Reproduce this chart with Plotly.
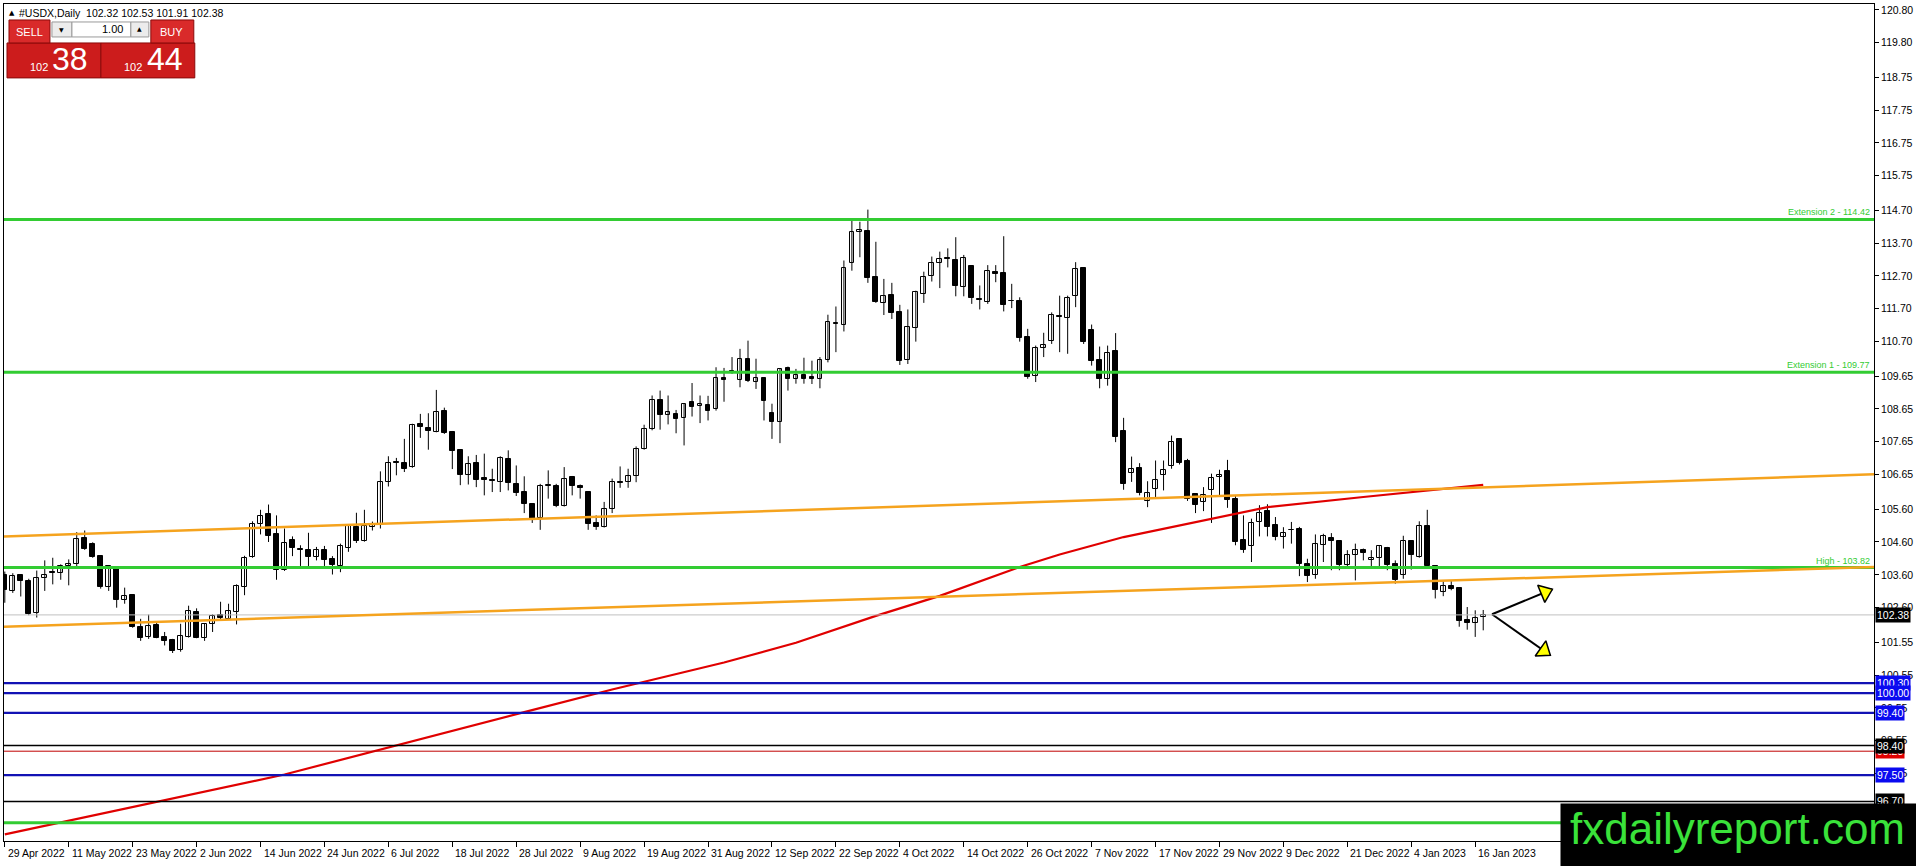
import math
import pandas as pd
import plotly.graph_objects as go

# ---------------- data ----------------
holidays = ["2022-12-26", "2023-01-02"]
dates = [d for d in pd.bdate_range("2022-04-29", "2023-01-17")
         if d.strftime("%Y-%m-%d") not in holidays]
tick_step = 8
tick_labels = [f"{d.day} {d.strftime('%b %Y')}" for d in dates[::tick_step]]

opens = [
    103.61, 103.11, 103.58, 103.40, 102.44, 103.51, 103.68, 103.67, 103.86, 103.94,
    104.71, 104.53, 104.16, 103.23, 103.85, 102.82, 103.00, 102.01, 101.71, 102.07,
    101.70, 101.61, 101.30, 101.71, 102.47, 101.69, 102.11, 102.37, 102.27, 102.47,
    103.23, 104.14, 105.16, 105.44, 104.83, 103.74, 104.65, 104.40, 104.37, 104.14,
    104.35, 104.07, 103.88, 104.43, 105.06, 104.63, 105.06, 105.11, 106.43, 107.03,
    107.02, 106.88, 108.18, 108.08, 107.96, 108.60, 107.95, 107.39, 106.65, 107.00,
    106.54, 106.49, 106.43, 107.14, 106.37, 106.13, 105.75, 105.34, 106.29, 106.32,
    105.69, 106.58, 106.32, 106.13, 105.18, 105.06, 105.61, 106.42, 106.44, 106.60,
    107.44, 108.03, 108.91, 108.47, 108.50, 108.38, 108.86, 108.73, 108.76, 108.64,
    109.60, 109.80, 109.52, 110.18, 109.48, 109.60, 108.54, 108.25, 109.90, 109.57,
    109.67, 109.62, 109.55, 110.14, 111.27, 111.21, 113.09, 114.05, 114.08, 112.68,
    111.88, 112.13, 111.61, 110.14, 111.12, 112.15, 112.69, 113.10, 113.24, 113.19,
    112.36, 113.01, 112.00, 111.92, 112.81, 112.79, 111.94, 111.94, 110.83, 109.64,
    110.50, 110.71, 111.49, 111.41, 112.10, 112.93, 111.06, 110.15, 109.57, 110.41,
    107.99, 106.70, 106.86, 105.85, 106.22, 106.63, 106.90, 107.74, 107.08, 106.07,
    105.82, 106.17, 106.59, 106.75, 105.92, 104.65, 104.47, 105.21, 105.54, 105.11,
    104.75, 104.96, 105.00, 103.94, 103.58, 104.50, 104.72, 104.62, 103.91, 104.19,
    104.37, 104.06, 104.12, 104.43, 103.94, 103.61, 104.62, 104.14, 105.08, 103.86,
    103.08, 103.25, 103.20, 102.22, 102.13, 102.32]
highs = [
    103.70, 103.65, 103.60, 103.48, 103.73, 104.04, 104.12, 103.92, 104.07, 104.90,
    104.95, 104.59, 104.19, 103.88, 103.86, 103.21, 103.01, 102.26, 102.39, 102.17,
    101.86, 101.65, 102.11, 102.66, 102.58, 102.13, 102.40, 102.78, 102.72, 103.31,
    104.18, 105.23, 105.58, 105.74, 105.41, 105.01, 104.77, 104.50, 104.88, 104.45,
    104.48, 104.17, 104.55, 105.10, 105.49, 105.58, 105.22, 106.75, 107.21, 107.16,
    107.74, 108.20, 108.50, 108.52, 109.23, 108.69, 107.98, 107.42, 107.21, 107.25,
    107.29, 106.83, 107.21, 107.39, 106.93, 106.60, 105.77, 106.37, 106.78, 106.37,
    106.88, 106.61, 106.35, 106.15, 105.41, 105.82, 106.53, 106.90, 106.83, 107.51,
    108.17, 109.06, 109.21, 109.06, 108.62, 108.83, 109.44, 109.06, 109.05, 109.92,
    109.90, 110.23, 110.48, 110.73, 110.18, 109.62, 108.81, 109.89, 109.94, 109.87,
    110.21, 110.12, 110.23, 111.52, 111.77, 113.17, 114.45, 114.35, 114.72, 113.74,
    112.61, 112.49, 111.82, 111.68, 112.25, 112.83, 113.29, 113.44, 113.54, 113.88,
    113.34, 113.03, 112.41, 113.03, 113.03, 113.91, 112.46, 112.05, 111.09, 110.58,
    110.97, 111.59, 112.10, 112.10, 113.12, 112.95, 111.22, 110.55, 110.58, 110.96,
    108.38, 107.20, 107.00, 106.45, 107.08, 107.08, 107.84, 107.76, 107.13, 106.09,
    106.27, 106.68, 106.80, 107.10, 106.02, 105.41, 105.31, 105.72, 105.75, 105.36,
    105.05, 105.21, 105.06, 104.09, 104.83, 104.85, 104.87, 104.64, 104.35, 104.55,
    104.40, 104.35, 104.50, 104.45, 104.04, 104.79, 104.64, 105.23, 105.58, 103.88,
    103.41, 103.41, 103.22, 102.62, 102.52, 102.53]
lows = [
    102.75, 103.05, 102.94, 102.37, 102.30, 103.11, 103.31, 103.45, 103.28, 103.84,
    104.36, 104.12, 103.18, 103.11, 102.60, 102.72, 101.99, 101.59, 101.65, 101.67,
    101.45, 101.22, 101.26, 101.69, 101.67, 101.59, 101.86, 102.24, 102.24, 102.09,
    102.98, 104.12, 104.83, 104.60, 103.45, 103.72, 104.17, 103.87, 103.86, 104.04,
    103.87, 103.61, 103.68, 104.30, 104.57, 104.61, 104.95, 105.01, 106.29, 106.63,
    106.73, 106.86, 107.77, 107.41, 107.94, 107.89, 106.82, 106.33, 106.35, 106.27,
    106.02, 106.12, 106.12, 106.17, 106.00, 105.48, 105.18, 104.97, 105.92, 105.66,
    105.68, 106.02, 105.92, 104.97, 104.97, 105.04, 105.48, 106.25, 106.25, 106.42,
    107.41, 108.00, 108.02, 108.18, 107.91, 107.54, 108.42, 108.22, 108.30, 108.60,
    108.87, 109.72, 109.31, 109.47, 109.26, 108.30, 107.74, 107.61, 109.21, 109.42,
    109.42, 109.41, 109.28, 110.07, 110.38, 111.01, 112.86, 113.27, 112.49, 111.88,
    111.51, 111.39, 109.99, 110.02, 110.70, 111.88, 112.53, 112.33, 112.96, 112.08,
    112.08, 111.85, 111.68, 111.85, 112.51, 111.62, 111.72, 110.70, 109.57, 109.47,
    110.23, 110.63, 110.38, 110.33, 111.75, 110.63, 109.97, 109.28, 109.36, 107.64,
    106.19, 106.43, 106.02, 105.66, 105.97, 106.17, 106.83, 106.96, 105.85, 105.48,
    105.54, 105.18, 105.99, 105.64, 104.50, 104.27, 103.99, 104.77, 104.77, 104.65,
    104.40, 104.55, 103.56, 103.38, 103.48, 103.99, 103.74, 103.74, 103.84, 103.43,
    104.04, 103.84, 103.84, 103.74, 103.33, 103.48, 103.76, 104.12, 103.82, 102.88,
    102.95, 103.13, 102.02, 101.93, 101.71, 101.91]
closes = [
    103.13, 103.55, 103.41, 102.42, 103.51, 103.61, 103.66, 103.88, 103.94, 104.70,
    104.39, 104.14, 103.23, 103.86, 102.82, 102.97, 102.01, 101.69, 102.05, 101.69,
    101.60, 101.28, 101.73, 102.51, 101.69, 102.11, 102.34, 102.30, 102.51, 103.25,
    104.12, 105.16, 105.39, 104.77, 103.76, 104.58, 104.43, 104.36, 104.14, 104.37,
    104.04, 103.89, 104.47, 105.08, 104.63, 105.08, 105.14, 106.44, 107.02, 107.01,
    106.82, 108.15, 108.10, 107.98, 108.55, 107.92, 107.37, 106.63, 106.98, 106.48,
    106.50, 106.45, 107.17, 106.39, 106.09, 105.77, 105.31, 106.29, 106.34, 105.69,
    106.53, 106.30, 106.25, 105.16, 105.06, 105.61, 106.44, 106.39, 106.60, 107.44,
    108.05, 108.91, 108.47, 108.57, 108.35, 108.79, 108.71, 108.79, 108.58, 109.60,
    109.52, 109.76, 110.18, 109.50, 109.60, 108.89, 108.25, 109.87, 109.57, 109.67,
    109.57, 109.55, 110.13, 111.29, 111.24, 112.94, 114.05, 114.11, 112.63, 111.90,
    112.10, 111.57, 110.10, 111.16, 112.20, 112.68, 113.09, 113.22, 113.22, 112.39,
    113.25, 112.02, 111.97, 112.84, 112.75, 111.82, 111.93, 110.80, 109.62, 110.50,
    110.60, 111.51, 111.46, 112.02, 112.91, 110.70, 110.10, 109.57, 110.36, 107.79,
    106.37, 106.83, 106.09, 106.10, 106.50, 106.80, 107.64, 107.00, 105.92, 105.72,
    106.02, 106.56, 106.65, 105.87, 104.60, 104.37, 105.18, 105.47, 105.06, 104.75,
    104.88, 104.95, 103.94, 103.56, 104.55, 104.78, 104.62, 103.91, 104.21, 104.35,
    104.27, 104.12, 104.47, 103.91, 103.43, 104.62, 104.21, 105.08, 103.86, 103.15,
    103.25, 103.18, 102.20, 102.12, 102.30, 102.38]

# moving average (red) read at several bars
ma_idx = [0, 35, 65, 76, 90, 99, 109, 117, 127, 132, 140, 154, 158, 170, 185]
ma_val = [95.70, 97.52, 99.42, 100.11, 100.93, 101.53, 102.35, 102.96, 103.84, 104.22,
          104.75, 105.44, 105.66, 105.97, 106.34]

# orange channel: price at left edge and right edge of chart
channel_upper = [104.77, 106.66]
channel_lower = [102.02, 103.84]

# horizontal levels
green_levels = [114.42, 109.77, 103.82, 96.05]
green_texts = ["Extension 2 - 114.42", "Extension 1 - 109.77", "High - 103.82", ""]
blue_levels = [100.30, 100.00, 99.40, 97.50]
black_levels = [98.40, 96.70]
red_levels = [98.23]
last_price = 102.38

# right axis ticks
y_ticks = [120.80, 119.80, 118.75, 117.75, 116.75, 115.75, 114.70, 113.70, 112.70,
           111.70, 110.70, 109.65, 108.65, 107.65, 106.65, 105.60, 104.60, 103.60,
           102.60, 101.55, 100.55, 99.55, 98.55, 97.55]
y_tick_text = [f"{v:.2f}" for v in y_ticks]

# price label boxes on the axis (value, colour)
price_boxes = [(102.38, "#000000"), (100.30, "#0a0af0"), (100.00, "#0a0af0"),
               (99.40, "#0a0af0"), (98.23, "#e00000"), (98.40, "#000000"),
               (97.50, "#0a0af0"), (96.70, "#000000")]

# scenario arrows: start (bar, price) and tips
arrow_start = (186.1, 102.40)
arrow_tips = [(193.65, 103.16), (193.4, 101.15)]

header = "#USDX,Daily  102.32 102.53 101.91 102.38"
bid_big, ask_big, price_head = "38", "44", "102"

# ---------------- geometry ----------------
W, H = 1916, 866
PL, PR, PT, PB = 3, 1875, 3, 841
X0, X1 = -0.1, 233.9
Y0, Y1 = 95.496, 120.98
BAR_PX = (PR - PL) / (X1 - X0)
PRICE_PX = (PB - PT) / (Y1 - Y0)


def px(x):
    return (x - PL) / (PR - PL)


def py(y):
    return (PB - y) / (PB - PT)


FONT = "Liberation Sans, Arial, sans-serif"
idx = list(range(len(dates)))

fig = go.Figure()

# wicks
wx, wy = [], []
for i, h, l in zip(idx, highs, lows):
    wx += [i, i, None]
    wy += [l, h, None]
fig.add_trace(go.Scatter(x=wx, y=wy, mode="lines", line=dict(color="black", width=1),
                         hoverinfo="skip", showlegend=False))

# bodies
body_base = [min(o, c) for o, c in zip(opens, closes)]
body_h = [max(abs(c - o), 0.005) for o, c in zip(opens, closes)]
body_col = ["white" if c > o else "black" for o, c in zip(opens, closes)]
fig.add_trace(go.Bar(x=idx, y=body_h, base=body_base, width=0.6,
                     marker=dict(color=body_col, line=dict(color="black", width=1)),
                     hoverinfo="skip", showlegend=False))

# moving average
fig.add_trace(go.Scatter(x=ma_idx, y=ma_val, mode="lines",
                         line=dict(color="#e00000", width=2.2),
                         hoverinfo="skip", showlegend=False))

shapes = []
# horizontal lines
shapes.append(dict(type="line", xref="paper", yref="y", x0=0, x1=1, y0=last_price, y1=last_price,
                   line=dict(color="#c0c0c0", width=1), layer="above"))
for v in blue_levels:
    shapes.append(dict(type="line", xref="paper", yref="y", x0=0, x1=1, y0=v, y1=v,
                       line=dict(color="#1212b4", width=2.2), layer="above"))
for v in red_levels:
    shapes.append(dict(type="line", xref="paper", yref="y", x0=0, x1=1, y0=v, y1=v,
                       line=dict(color="#c00000", width=1), layer="above"))
for v in black_levels:
    shapes.append(dict(type="line", xref="paper", yref="y", x0=0, x1=1, y0=v, y1=v,
                       line=dict(color="#000000", width=1.5), layer="above"))
for v in green_levels:
    shapes.append(dict(type="line", xref="paper", yref="y", x0=0, x1=1, y0=v, y1=v,
                       line=dict(color="#33cc33", width=3), layer="above"))
# orange channel
for ch in (channel_upper, channel_lower):
    shapes.append(dict(type="line", xref="x", yref="y", x0=X0, x1=X1, y0=ch[0], y1=ch[1],
                       line=dict(color="#f5a31e", width=2.5), layer="above"))

annotations = []

# green level texts
for v, t in zip(green_levels, green_texts):
    if t:
        annotations.append(dict(xref="paper", yref="y", x=1, y=v, xanchor="right",
                                yanchor="bottom", text=t, showarrow=False, xshift=-2,
                                yshift=0, font=dict(family=FONT, size=9, color="#33cc33")))

# price boxes on axis
for v, col in price_boxes:
    annotations.append(dict(xref="paper", yref="y", x=1, y=v, xanchor="left", yanchor="middle",
                            text=f"{v:.2f}", showarrow=False, xshift=1, bgcolor=col,
                            borderpad=1, font=dict(family=FONT, size=10.5, color="white")))

# date labels (left aligned at the tick)
for i, lab in zip(idx[::tick_step], tick_labels):
    annotations.append(dict(xref="x", yref="paper", x=i, y=0, xanchor="left", yanchor="top",
                            text=lab, showarrow=False, xshift=1, yshift=-4,
                            font=dict(family=FONT, size=10.5, color="black")))

# header
annotations.append(dict(xref="paper", yref="paper", x=px(6), y=py(12), xanchor="left",
                        yanchor="middle", text="▲", showarrow=False,
                        font=dict(family="DejaVu Sans", size=7, color="black")))
annotations.append(dict(xref="paper", yref="paper", x=px(16), y=py(12), xanchor="left",
                        yanchor="middle", text=header.replace("  ", "&nbsp;&nbsp;"),
                        showarrow=False, font=dict(family=FONT, size=10.5, color="black")))

# trading panel
def rect(x0, y0, x1, y1, fill, line="#8a0a0a", lw=1):
    shapes.append(dict(type="rect", xref="paper", yref="paper", x0=px(x0), x1=px(x1),
                       y0=py(y1), y1=py(y0), fillcolor=fill, line=dict(color=line, width=lw),
                       layer="above"))


def txt(x, y, t, size, color="white", anchor="center", family=FONT):
    annotations.append(dict(xref="paper", yref="paper", x=px(x), y=py(y), xanchor=anchor,
                            yanchor="middle", text=t, showarrow=False,
                            font=dict(family=family, size=size, color=color)))


rect(6, 42, 100, 77, "#cc1c1c")
rect(100, 42, 194, 77, "#cc1c1c")
rect(8, 19, 49, 42, "#d92a2a")
rect(150, 19, 193, 42, "#d92a2a")
rect(51, 21, 71, 36, "#ececec", "#9a9a9a")
rect(71, 21, 130, 36, "#ffffff", "#9a9a9a")
rect(130, 21, 148, 36, "#ececec", "#9a9a9a")
txt(29, 31, "SELL", 11)
txt(171, 31, "BUY", 11)
txt(124, 28.5, "1.00", 11, "black", "right")
txt(61, 29, "▼", 6, "black", family="DejaVu Sans")
txt(139, 28, "▲", 6, "black", family="DejaVu Sans")
txt(38, 66, price_head, 11)
txt(69, 58.5, bid_big, 32)
txt(132, 66, price_head, 11)
txt(164, 58.5, ask_big, 32)

# watermark (box above the axis boxes)
annotations.append(dict(xref="paper", yref="paper", x=px(1561), y=py(803), xanchor="left",
                        yanchor="top", text=" ", showarrow=False, width=355, height=63,
                        bgcolor="black", borderpad=0, font=dict(size=10)))
annotations.append(dict(xref="paper", yref="paper", x=px(1738), y=py(828), xanchor="center",
                        yanchor="middle", text="fxdailyreport.com", showarrow=False,
                        font=dict(family=FONT, size=44, color="#3ae23a")))

# arrows
for tip in arrow_tips:
    fig.add_trace(go.Scatter(x=[arrow_start[0], tip[0]], y=[arrow_start[1], tip[1]],
                             mode="lines", line=dict(color="black", width=2),
                             hoverinfo="skip", showlegend=False))
    dxp = (tip[0] - arrow_start[0]) * BAR_PX
    dyp = -(tip[1] - arrow_start[1]) * PRICE_PX
    L = math.hypot(dxp, dyp)
    ux, uy = dxp / L, dyp / L
    size = 16
    back = size / 2
    cx = tip[0] - ux * back / BAR_PX
    cy = tip[1] + uy * back / PRICE_PX
    ang = math.degrees(math.atan2(ux, -uy))
    fig.add_trace(go.Scatter(x=[cx], y=[cy], mode="markers",
                             marker=dict(symbol="triangle-up", size=size, angle=ang,
                                         color="#ffff00", line=dict(color="black", width=1.5)),
                             hoverinfo="skip", showlegend=False))

fig.update_layout(
    width=W, height=H, autosize=False,
    margin=dict(l=PL, r=W - PR, t=PT, b=H - PB, pad=0),
    paper_bgcolor="white", plot_bgcolor="white",
    font=dict(family=FONT, size=10.5, color="black"),
    showlegend=False, hovermode=False, bargap=0,
    shapes=shapes, annotations=annotations,
    xaxis=dict(range=[X0, X1], tickvals=idx[::tick_step], showticklabels=False,
               ticks="outside", ticklen=5, tickcolor="black", showgrid=False,
               zeroline=False, showline=True, linecolor="black", linewidth=1, mirror=True,
               fixedrange=True),
    yaxis=dict(range=[Y0, Y1], side="right", tickvals=y_ticks, ticktext=y_tick_text,
               ticks="outside", ticklen=4, tickcolor="black", showgrid=False,
               zeroline=False, showline=True, linecolor="black", linewidth=1, mirror=True,
               tickfont=dict(family=FONT, size=10.5, color="black"), fixedrange=True),
)

fig.write_html(
    "out.html",
    config={"displayModeBar": False},
    post_script="document.body.style.margin='0';document.body.style.padding='0';"
                "document.body.style.overflow='hidden';"
                "document.documentElement.style.overflow='hidden';",
)
